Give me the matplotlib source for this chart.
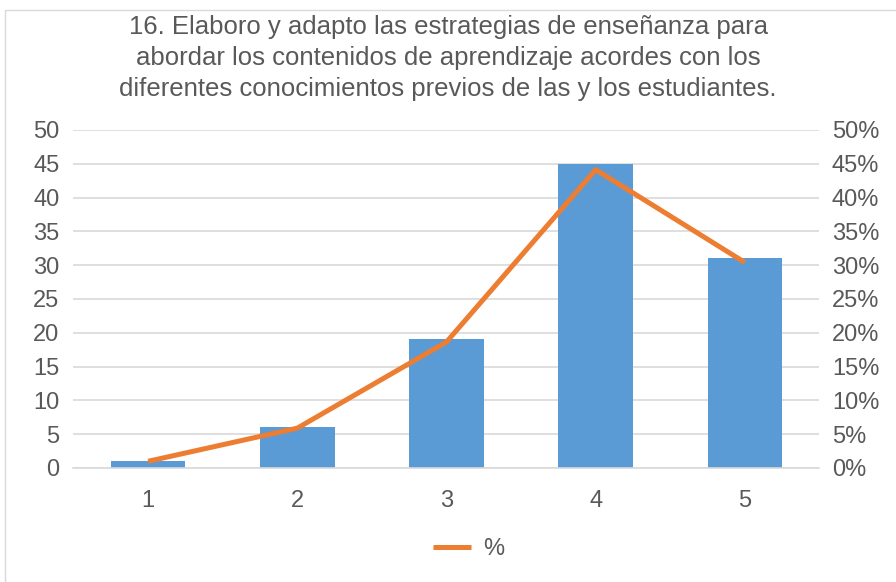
import matplotlib.pyplot as plt
from matplotlib.patches import Rectangle
from matplotlib.ticker import FuncFormatter

plt.rcParams['font.family'] = ['Liberation Sans', 'DejaVu Sans']

categories = ['1', '2', '3', '4', '5']
counts = [1, 6, 19, 45, 31]
total = sum(counts)
percents = [c / total for c in counts]

text_color = '#595959'
bar_color = '#5B9BD5'
line_color = '#ED7D31'
grid_color = '#D9D9D9'

fig = plt.figure(figsize=(8.96, 5.82), dpi=100)
ax = fig.add_axes([0.082, 0.196, 0.8326, 0.5808])
ax2 = ax.twinx()

x = range(len(categories))
ax.bar(x, counts, width=0.5, color=bar_color, zorder=2)
ax2.plot(x, percents, color=line_color, linewidth=3.6, solid_capstyle='butt', label='%', zorder=3)

ax.set_xlim(-0.5, len(categories) - 0.5)
ax.set_ylim(0, 50)
ax.set_yticks(range(0, 51, 5))
ax2.set_ylim(0, 0.5)
ax2.set_yticks([i / 100 for i in range(0, 51, 5)])
ax2.yaxis.set_major_formatter(FuncFormatter(lambda v, p: f'{round(v * 100)}%'))
ax.set_xticks(list(x))
ax.set_xticklabels(categories)

ax.yaxis.grid(True, color=grid_color, linewidth=1.2, zorder=0)
ax.set_axisbelow(True)
for a in (ax, ax2):
    for s in a.spines.values():
        s.set_visible(False)
    a.tick_params(length=0, labelsize=17, colors=text_color)
ax.spines['bottom'].set_visible(True)
ax.spines['bottom'].set_color(grid_color)
ax.spines['bottom'].set_linewidth(1.2)
ax.tick_params(axis='x', pad=16)
ax.tick_params(axis='y', pad=10)
ax2.tick_params(axis='y', pad=9)

fig.text(0.5, 0.975, '16. Elaboro y adapto las estrategias de enseñanza para\n'
         'abordar los contenidos de aprendizaje acordes con los\n'
         'diferentes conocimientos previos de las y los estudiantes.',
         ha='center', va='top', fontsize=18.5, color=text_color, linespacing=1.38)

fig.legend(handles=ax2.get_lines(), loc='center', bbox_to_anchor=(0.523, 0.057),
           frameon=False, fontsize=17, labelcolor=text_color, handlelength=1.6,
           handletextpad=0.5)

fig.patches.append(Rectangle((0.006, -0.1), 1.2, 1.083, transform=fig.transFigure,
                             fill=False, edgecolor='#D9D9D9', linewidth=1))

fig.savefig('out.png', dpi=100)
